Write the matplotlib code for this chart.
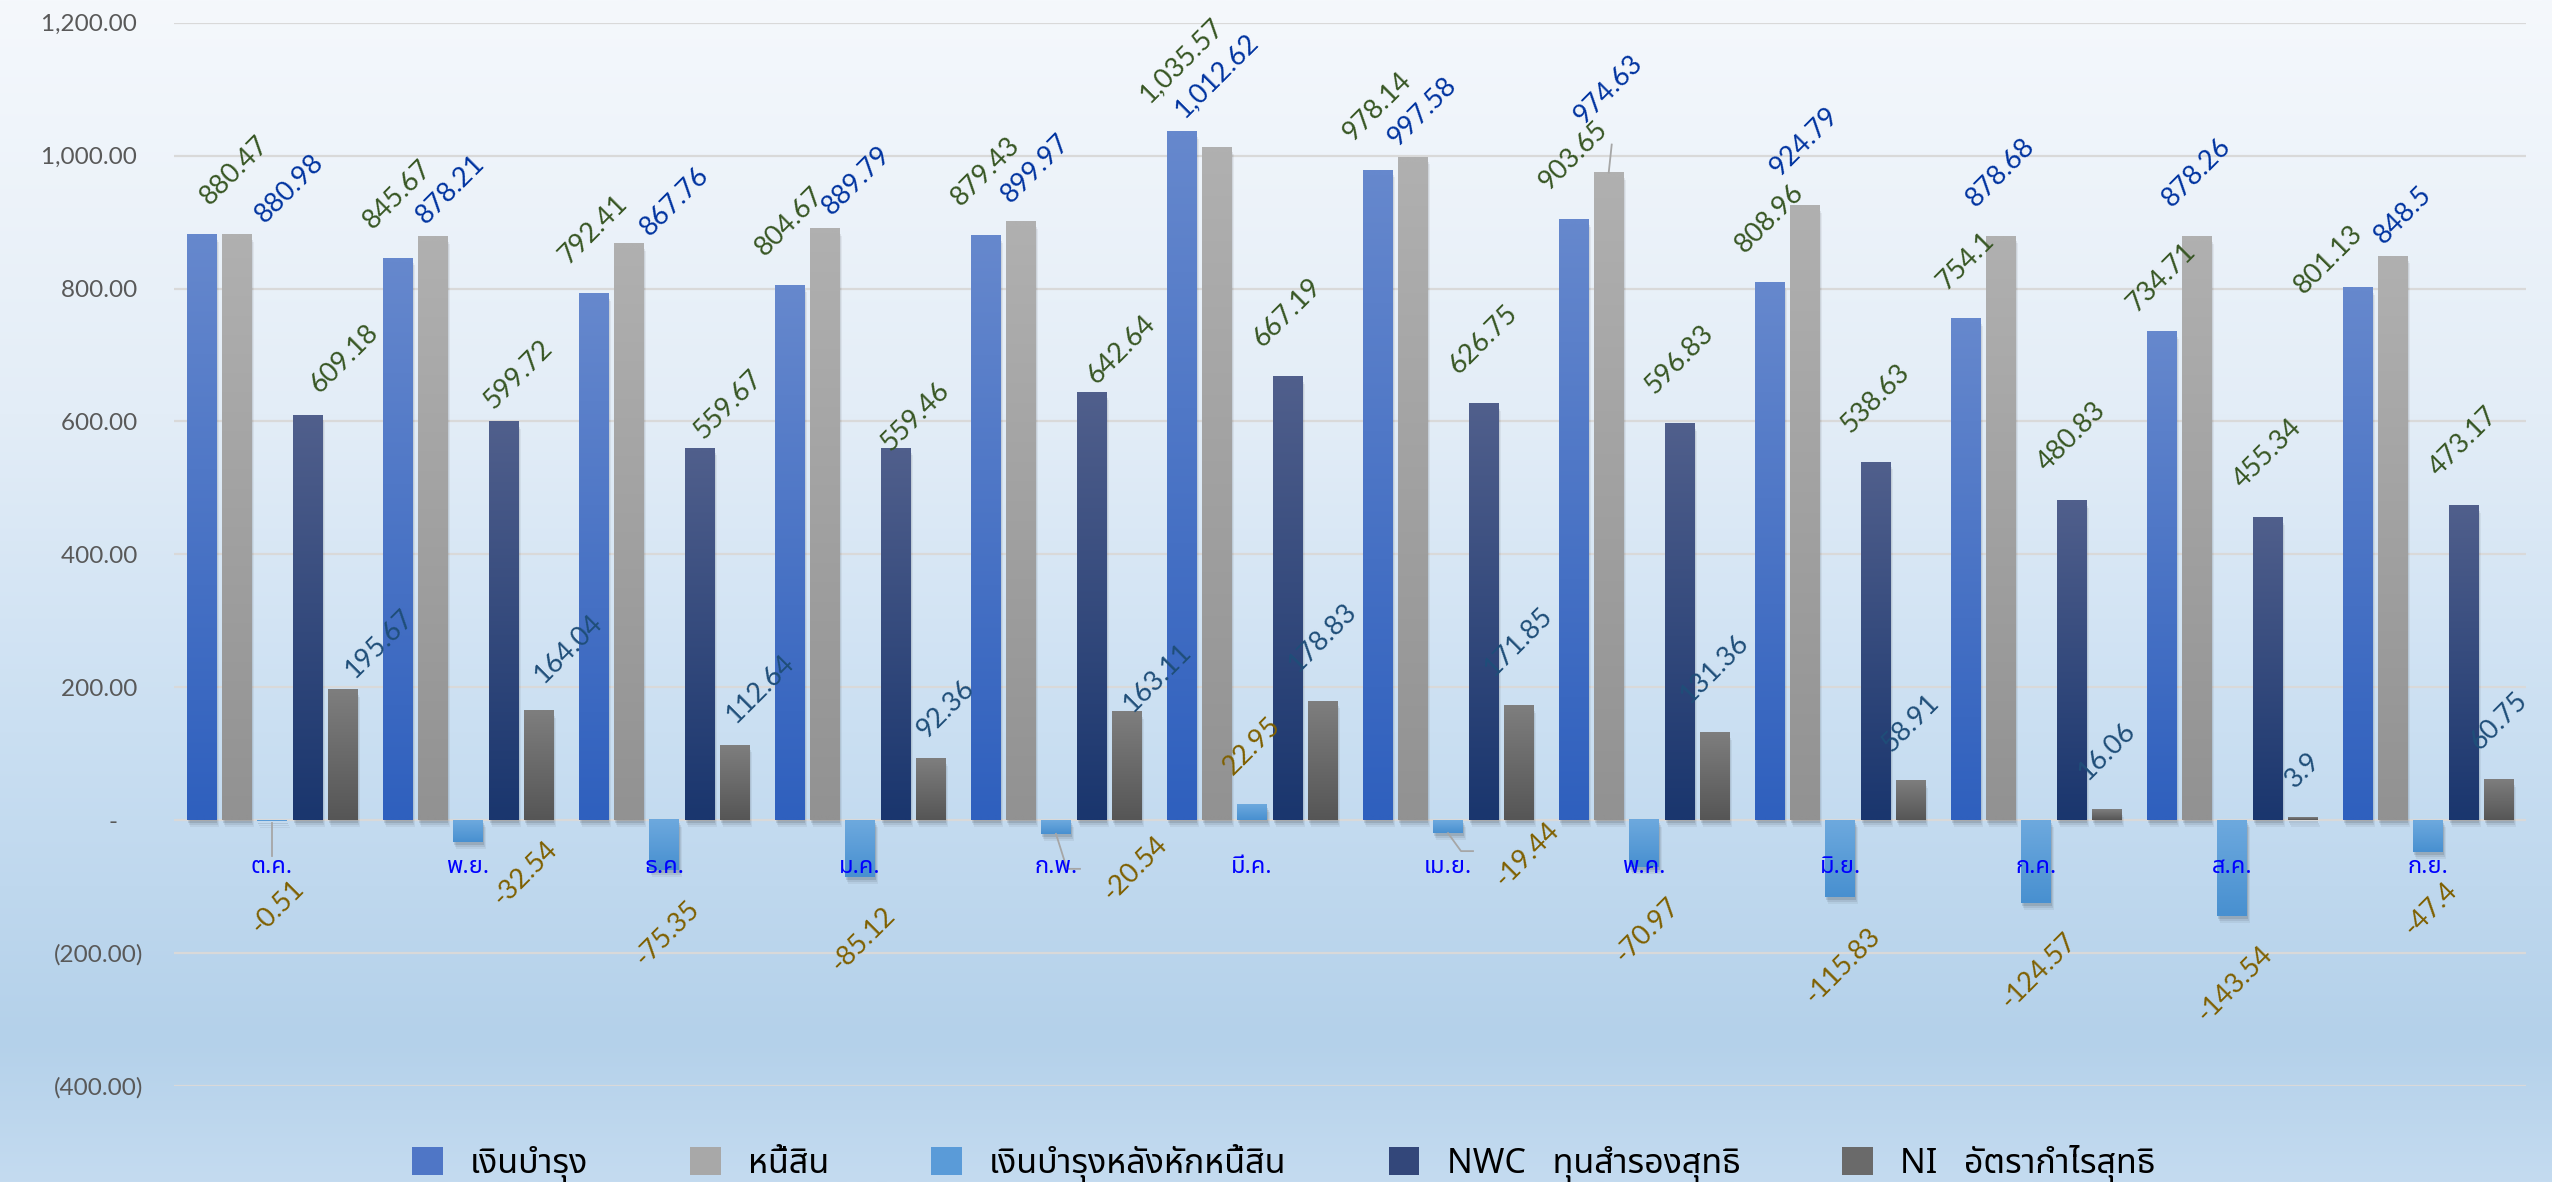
import numpy as np
import matplotlib
matplotlib.use('Agg')
import matplotlib.pyplot as plt
from matplotlib import font_manager
from matplotlib.patches import Rectangle
from matplotlib.colors import to_rgb

months = ['ต.ค.', 'พ.ย.', 'ธ.ค.', 'ม.ค.', 'ก.พ.', 'มี.ค.', 'เม.ย.', 'พ.ค.', 'มิ.ย.', 'ก.ค.', 'ส.ค.', 'ก.ย.']
fund = [880.47, 845.67, 792.41, 804.67, 879.43, 1035.57, 978.14, 903.65, 808.96, 754.1, 734.71, 801.13]
liab = [880.98, 878.21, 867.76, 889.79, 899.97, 1012.62, 997.58, 974.63, 924.79, 878.68, 878.26, 848.5]
net = [-0.51, -32.54, -75.35, -85.12, -20.54, 22.95, -19.44, -70.97, -115.83, -124.57, -143.54, -47.4]
nwc = [609.18, 599.72, 559.67, 559.46, 642.64, 667.19, 626.75, 596.83, 538.63, 480.83, 455.34, 473.17]
ni = [195.67, 164.04, 112.64, 92.36, 163.11, 178.83, 171.85, 131.36, 58.91, 16.06, 3.9, 60.75]
series_names = ['เงินบำรุง', 'หนี้สิน', 'เงินบำรุงหลังหักหนี้สิน', 'NWC   ทุนสำรองสุทธิ', 'NI   อัตรากำไรสุทธิ']
y_ticks = [-400, -200, 0, 200, 400, 600, 800, 1000, 1200]

# label placement tweaks (dx px, gap px) for labels moved by hand in the original
label_nudge = {
    (0, 0): (33, 26), (0, 10): (0, 15), (0, 11): (-29, -11),
    (1, 0): (53, 7), (1, 1): (18, 8), (1, 2): (46, 3), (1, 3): (32, 9), (1, 4): (15, 15),
    (1, 6): (10, 7), (1, 7): (0, 44), (1, 11): (10, 8),
    (2, 0): (5, 55), (2, 1): (57, -5), (2, 4): (79, -2), (2, 5): (0, 25), (2, 6): (79, -15),
    (3, 0): (37, 18), (3, 1): (15, 8), (3, 2): (29, 5), (3, 3): (20, -7), (3, 4): (30, 5),
    (4, 0): (37, 8), (4, 1): (30, 24), (4, 2): (26, 18), (4, 3): (15, 16), (4, 4): (31, -5),
}
# leader lines (px polylines relative to bar end, x right / y up)
leaders = {
    (2, 0): [(0, -2), (0, -35)],
    (2, 4): [(0, 0), (11, -35), (24, -35)],
    (2, 6): [(0, 0), (13, -18), (25, -18)],
    (1, 7): [(0, 0), (3, 28)],
}

avail = {f.name for f in font_manager.fontManager.ttflist}
thai_family = [f for f in ['Noto Sans Thai', 'Noto Sans Thai UI', 'Sarabun'] if f in avail][:1] + ['DejaVu Sans']
num_font = ['Lato', 'DejaVu Sans']

W, H = 2552, 1182
fig = plt.figure(figsize=(W / 100, H / 100), dpi=100)

# background gradient
bg = fig.add_axes([0, 0, 1, 1], zorder=-10)
stops = [(0.0, '#F5F8FC'), (0.35, '#E3EDF7'), (0.62, '#CADFF2'), (0.88, '#B4D1EA'), (1.0, '#C4DBF0')]
ys = np.linspace(0, 1, 400)
pos = [s[0] for s in stops]
cols = np.array([to_rgb(s[1]) for s in stops])
grad = np.stack([np.interp(ys, pos, cols[:, k]) for k in range(3)], axis=1)[:, None, :]
bg.imshow(grad, extent=[0, 1, 0, 1], origin='upper', aspect='auto', interpolation='bilinear')
bg.set_axis_off()

left, right, top, bottom = 174, 2526, 22.8, 1086
ax = fig.add_axes([left / W, 1 - bottom / H, (right - left) / W, (bottom - top) / H])
ax.set_facecolor('none')
for s in ax.spines.values():
    s.set_visible(False)

x = np.arange(len(months))
width = 0.148
stride = 0.18
series = [fund, liab, net, nwc, ni]
grads = [('#6688CD', '#2F60BE'), ('#B0B0B0', '#929292'), ('#6DA9DE', '#4890D0'),
         ('#505F8C', '#1A366E'), ('#7E7E7E', '#565656')]
legend_cols = ['#4F76C6', '#A8A8A8', '#5A9BD8', '#33477A', '#6A6A6A']
label_cols = ['#375623', '#0033A0', '#7F6000', '#375623', '#1F4E79']
default_nudge = [(0, 25), (0, 25), (3, 26), (0, 25), (0, 25)]


def grad_bar(x0, w, y0, y1, ctop, cbot, z):
    t = np.linspace(0, 1, 64)[:, None]
    ct, cb = np.array(to_rgb(ctop)), np.array(to_rgb(cbot))
    arr = (cb + (ct - cb) * t)[:, None, :]
    ax.imshow(arr, extent=[x0, x0 + w, y0, y1], origin='lower', aspect='auto',
              interpolation='bilinear', zorder=z)


px_x = 1.0 / 196.0
px_y = 1600.0 / (bottom - top)
for k, vals in enumerate(series):
    off = (k - 2) * stride
    for i, v in enumerate(vals):
        xc = x[i] + off
        x0 = xc - width / 2
        y0, y1 = (0, v) if v >= 0 else (v, 0)
        for j, a in enumerate([0.10, 0.07, 0.05]):
            ax.add_patch(Rectangle((x0 + (1 + j) * px_x, y0 - (3 + 2 * j) * px_y),
                                   width, (y1 - y0), facecolor='black', alpha=a,
                                   lw=0, zorder=1.5))
        grad_bar(x0, width, y0, y1, grads[k][0], grads[k][1], 2)
        dx, gap = label_nudge.get((k, i), default_nudge[k])
        sgn = 1 if v >= 0 else -1
        ax.annotate(f'{v:,}', xy=(xc, v), xytext=(dx * 0.72, sgn * gap * 0.72),
                    textcoords='offset points', rotation=45, ha='center',
                    va='bottom' if v >= 0 else 'top', color=label_cols[k],
                    fontsize=19.5, family=num_font, zorder=5)
        if (k, i) in leaders:
            pts = leaders[(k, i)]
            ax.plot([xc + p[0] * px_x for p in pts], [v + p[1] * px_y for p in pts],
                    color='#A6A6A6', lw=1.3, zorder=4)

ax.set_xlim(-0.5, len(months) - 0.5)
ax.set_ylim(-400, 1200)
ax.set_yticks(y_ticks)


def ylab(v):
    if v == 0:
        return '-    '
    if v < 0:
        return f'({abs(v):,.2f})'
    return f'{v:,.2f} '


ax.set_yticklabels([ylab(v) for v in y_ticks], family=num_font, fontsize=17.5, color='#595959')
ax.tick_params(axis='y', length=0, pad=22)
ax.tick_params(axis='x', length=0, labelbottom=False)
ax.grid(axis='y', color='#D9D9D9', lw=1.6, zorder=0.5)
ax.set_axisbelow(True)

for i, m in enumerate(months):
    ax.annotate(m, xy=(x[i], 0), xytext=(0, -34), textcoords='offset points',
                ha='center', va='center', color='#0000FF', fontsize=17,
                fontweight='medium', family=thai_family, zorder=6)

handles = [Rectangle((0, 0), 1, 1, facecolor=c, lw=0) for c in legend_cols]
fig.legend(handles, series_names, loc='center', bbox_to_anchor=(0.503, 0.016), ncol=5,
           frameon=False, prop={'family': thai_family, 'size': 24.5},
           handlelength=0.9, handleheight=0.9, columnspacing=3.0, handletextpad=0.8,
           borderpad=0.0)

fig.savefig('out.png', dpi=100)
